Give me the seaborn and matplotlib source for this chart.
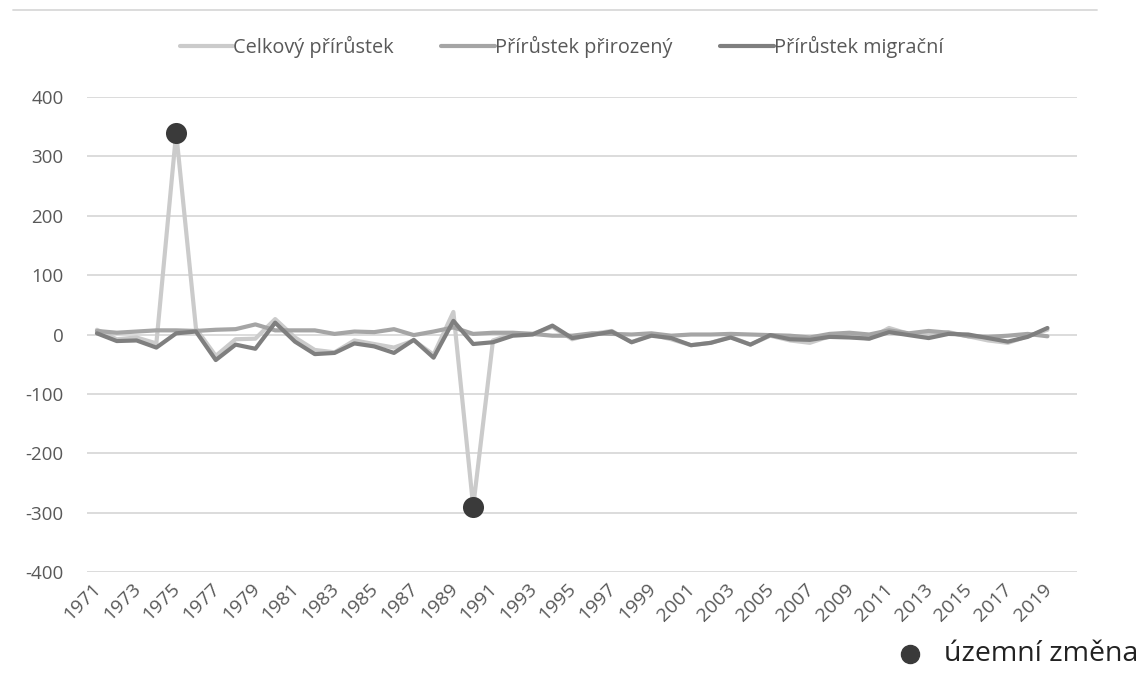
import matplotlib
matplotlib.use("Agg")
import matplotlib.pyplot as plt
import matplotlib.transforms as mtransforms
import numpy as np
import pandas as pd
import seaborn as sns
from matplotlib.lines import Line2D

years = list(range(1971, 2020))

# Přírůstek migrační
migracni = [2, -11, -10, -22, 2, 5, -43, -17, -24, 20,
            -12, -33, -31, -15, -20, -31, -9, -39, 23, -16,
            -13, -2, 0, 15, -6, -1, 5, -13, -2, -6,
            -18, -14, -5, -17, -1, -8, -9, -4, -5, -7,
            4, -1, -6, 1, 0, -6, -12, -4, 11]

# Přírůstek přirozený
prirozeny = [6, 3, 5, 7, 7, 6, 8, 9, 17, 7,
             7, 7, 1, 5, 4, 9, -1, 5, 12, 1,
             3, 3, 1, -2, -2, 2, 1, 0, 2, -2,
             0, 0, 1, 0, -1, -2, -5, 1, 3, 0,
             7, 2, 6, 3, -3, -4, -2, 1, -3]

# Celkový přírůstek
celkovy = [8, -8, -5, -15, 340, 10, -36, -8, -7, 26,
           -5, -26, -30, -10, -16, -22, -10, -34, 38, -290,
           -10, 1, 1, 13, -8, 1, 6, -13, 0, -8,
           -18, -14, -4, -17, -2, -10, -14, -3, -2, -7,
           11, 1, 0, 4, -3, -10, -14, -3, 8]

zmena_roky = [1975, 1990]
zmena_hodnoty = [340, -290]

series_names = ["Celkový přírůstek", "Přírůstek přirozený", "Přírůstek migrační"]
colors = ["#cbcbcb", "#a5a5a5", "#7f7f7f"]

df = pd.DataFrame({
    "rok": years * 3,
    "hodnota": celkovy + prirozeny + migracni,
    "serie": [series_names[0]] * len(years) + [series_names[1]] * len(years)
             + [series_names[2]] * len(years),
})

sns.set_style("white")
plt.rcParams["font.family"] = ["Open Sans", "DejaVu Sans"]
plt.rcParams["axes.unicode_minus"] = False

fig = plt.figure(figsize=(11.47, 6.93), dpi=100)
ax = fig.add_axes([0.0759, 0.1746, 0.8632, 0.6854])

sns.lineplot(data=df, x="rok", y="hodnota", hue="serie", hue_order=series_names,
             palette=colors, linewidth=3, ax=ax, legend=False, zorder=3)
sns.scatterplot(x=zmena_roky, y=zmena_hodnoty, color="#3a3a3a", s=230,
                edgecolor="#3a3a3a", linewidth=0, ax=ax, zorder=4)

# kategorie 1971-2020 (2020 bez dat)
ax.set_xlim(1970.5, 2020.5)
ax.set_ylim(-400, 400)
ax.set_yticks(np.arange(-400, 401, 100))
ax.set_xticks(years[::2])
ax.set_xticklabels([str(y) for y in years[::2]], rotation=45, ha="right",
                   rotation_mode="anchor")
ax.grid(axis="y", color="#d9d9d9", linewidth=1.3)
ax.grid(axis="x", visible=False)
for s in ax.spines.values():
    s.set_visible(False)
ax.tick_params(axis="y", length=0, labelsize=13.5, colors="#595959", pad=17)
ax.tick_params(axis="x", length=0, labelsize=14, colors="#595959", pad=8)
offset = mtransforms.ScaledTranslation(-5 / 100, 3 / 100, fig.dpi_scale_trans)
for lbl in ax.get_xticklabels():
    lbl.set_transform(lbl.get_transform() + offset)
ax.set_xlabel("")
ax.set_ylabel("")

handles = [Line2D([0], [0], color=c, linewidth=3) for c in colors]
fig.legend(handles, series_names, loc="center", bbox_to_anchor=(0.4895, 0.932),
           ncol=3, frameon=False, fontsize=14.3, handlelength=2.7,
           handletextpad=0.0, columnspacing=2.4, labelcolor="#595959")

# horní linka
fig.add_artist(Line2D([0.011, 0.956], [0.986, 0.986], color="#d9d9d9",
                      linewidth=1.3, transform=fig.transFigure))

# legenda územní změny
fig.add_artist(Line2D([0.7935], [0.056], marker="o", markersize=13,
                      color="#3a3a3a", linestyle="none",
                      transform=fig.transFigure))
fig.text(0.823, 0.056, "územní změna", fontsize=20.5, color="#222222",
         va="center", ha="left")

fig.savefig("out.png", dpi=100)
